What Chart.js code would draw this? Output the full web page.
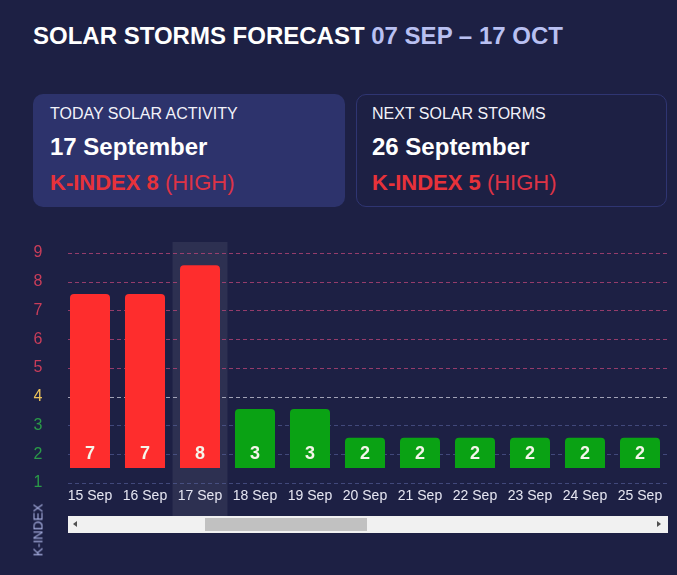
<!DOCTYPE html>
<html><head><meta charset="utf-8">
<script src="https://cdn.jsdelivr.net/npm/chart.js@4.4.0/dist/chart.umd.min.js"></script>
<style>
html,body{margin:0;padding:0;}
body{width:677px;height:575px;background:#1d2044;font-family:Arial,"Liberation Sans",sans-serif;position:relative;overflow:hidden;}
.title{position:absolute;left:33px;top:22px;font-size:24px;line-height:28px;font-weight:bold;color:#fff;white-space:nowrap;}
.title span{color:#b9c0f2;}
.card{position:absolute;top:94px;height:113px;border-radius:10px;box-sizing:border-box;}
.c1{left:33px;width:312px;background:#2d336c;}
.c2{left:356px;width:311px;border:1px solid #2f3572;}
.l1{position:absolute;left:17px;top:10px;font-size:16px;line-height:20px;color:#f2f2fa;white-space:nowrap;}
.l2{position:absolute;left:17px;top:39px;font-size:24px;line-height:28px;font-weight:bold;color:#fff;white-space:nowrap;}
.l3{position:absolute;left:17px;top:76px;font-size:22px;line-height:26px;color:#dd3346;white-space:nowrap;}
.l3 b{color:#e8323a;}
.c2 .l1,.c2 .l2,.c2 .l3{left:15px;}
.c2 .l1{top:9px;} .c2 .l2{top:38px;} .c2 .l3{top:75px;}
#wrap{position:absolute;left:0;top:230px;width:677px;height:345px;}
.kidx{position:absolute;left:38px;top:530px;transform:translate(-50%,-50%) rotate(-90deg);font-size:13px;color:#aab2e4;white-space:nowrap;}
.track{position:absolute;left:68px;top:516px;width:600px;height:17px;background:#f1f1f1;}
.thumb{position:absolute;left:137px;top:2px;width:162px;height:13px;background:#c1c1c1;}
.arl{position:absolute;left:5px;top:5px;width:0;height:0;border-top:3.5px solid transparent;border-bottom:3.5px solid transparent;border-right:4px solid #505050;}
.arr{position:absolute;left:589px;top:5px;width:0;height:0;border-top:3.5px solid transparent;border-bottom:3.5px solid transparent;border-left:4px solid #505050;}
</style></head>
<body>
<div class="title">SOLAR STORMS FORECAST <span>07 SEP – 17 OCT</span></div>
<div class="card c1">
  <div class="l1">TODAY SOLAR ACTIVITY</div>
  <div class="l2">17 September</div>
  <div class="l3"><b>K-INDEX 8</b> (HIGH)</div>
</div>
<div class="card c2">
  <div class="l1">NEXT SOLAR STORMS</div>
  <div class="l2">26 September</div>
  <div class="l3"><b>K-INDEX 5</b> (HIGH)</div>
</div>
<div id="wrap"><canvas id="c" width="677" height="345"></canvas></div>
<div class="track"><div class="arl"></div><div class="thumb"></div><div class="arr"></div></div>
<div class="kidx">K-INDEX</div>
<script>
// ---- data ----
const days = ['15 Sep','16 Sep','17 Sep','18 Sep','19 Sep','20 Sep','21 Sep','22 Sep','23 Sep','24 Sep','25 Sep'];
const kIndex = [7, 7, 8, 3, 3, 2, 2, 2, 2, 2, 2];
const yTicks = [1, 2, 3, 4, 5, 6, 7, 8, 9];
const todayLabel = '17 Sep';

// ---- styling helpers ----
const FONT = 'Arial, "Liberation Sans", sans-serif';
function barColor(v){ return v >= 5 ? '#fe2d2d' : (v === 4 ? '#e8b84a' : '#0aa214'); }
function tickColor(v){ return v >= 5 ? '#c93d5a' : (v === 4 ? '#ecc25a' : '#2a9a48'); }
function gridColor(v){ return v >= 5 ? 'rgba(190,70,120,0.75)' : (v === 4 ? 'rgba(205,205,220,0.75)' : 'rgba(90,100,160,0.6)'); }
const BAR_BASE = 1.52, BAR_TOP_OFFSET = 0.57;
const GRID_INSET = 5.5;

const bandPlugin = {
  id: 'band',
  beforeDraw(chart){
    const i = days.indexOf(todayLabel);
    if (i < 0) return;
    const xs = chart.scales.x, a = chart.chartArea, c = chart.ctx;
    const w = xs.width / days.length;
    const xc = xs.getPixelForValue(i);
    c.save();
    c.fillStyle = 'rgba(255,255,255,0.075)';
    c.fillRect(xc - w/2, a.top, w, a.bottom + 34 - a.top);
    c.restore();
  },
  beforeDatasetsDraw(chart){
    const ys = chart.scales.y, a = chart.chartArea, c = chart.ctx;
    c.save();
    c.lineWidth = 1;
    c.setLineDash([4, 3]);
    yTicks.forEach(v => {
      const y = Math.round(ys.getPixelForValue(v)) + 0.5;
      c.strokeStyle = gridColor(v);
      c.beginPath(); c.moveTo(a.left + GRID_INSET, y); c.lineTo(a.right, y); c.stroke();
    });
    c.restore();
  }
};
const valuePlugin = {
  id: 'vals',
  afterDatasetsDraw(chart){
    const c = chart.ctx, meta = chart.getDatasetMeta(0);
    c.save();
    c.font = 'bold 18px ' + FONT;
    c.fillStyle = '#f5f5ea';
    c.textAlign = 'center';
    c.textBaseline = 'middle';
    meta.data.forEach((bar, i) => { c.fillText(String(kIndex[i]), bar.x, bar.base - 14); });
    c.restore();
  }
};

new Chart(document.getElementById('c'), {
  type: 'bar',
  data: {
    labels: days,
    datasets: [{
      data: kIndex.map(v => [BAR_BASE, v + BAR_TOP_OFFSET]),
      backgroundColor: kIndex.map(barColor),
      borderRadius: {topLeft: 4, topRight: 4, bottomLeft: 0, bottomRight: 0},
      borderSkipped: false,
      barPercentage: 40/55,
      categoryPercentage: 1
    }]
  },
  options: {
    responsive: false, animation: false, devicePixelRatio: 1,
    layout: {padding: {left: 33.5, right: 9.5, top: 12, bottom: 72}},
    plugins: {legend: {display: false}, tooltip: {enabled: false}},
    scales: {
      x: {
        grid: {display: false}, border: {display: false},
        ticks: {color: '#e6e6f2', font: {size: 14, family: FONT}, padding: -3, maxRotation: 0, autoSkip: false},
        afterFit: s => { s.height = 20; }
      },
      y: {
        min: yTicks[0], max: yTicks[yTicks.length - 1] + 0.38,
        afterFit: s => { s.width = 29; },
        border: {display: false},
        grid: {display: false, drawTicks: false},
        afterBuildTicks: s => { s.ticks = yTicks.map(v => ({value: v})); },
        ticks: {padding: 0, crossAlign: 'far', color: c => c.tick ? tickColor(c.tick.value) : '#fff', font: {size: 16, family: FONT}}
      }
    }
  },
  plugins: [bandPlugin, valuePlugin]
});
</script>
</body></html>
